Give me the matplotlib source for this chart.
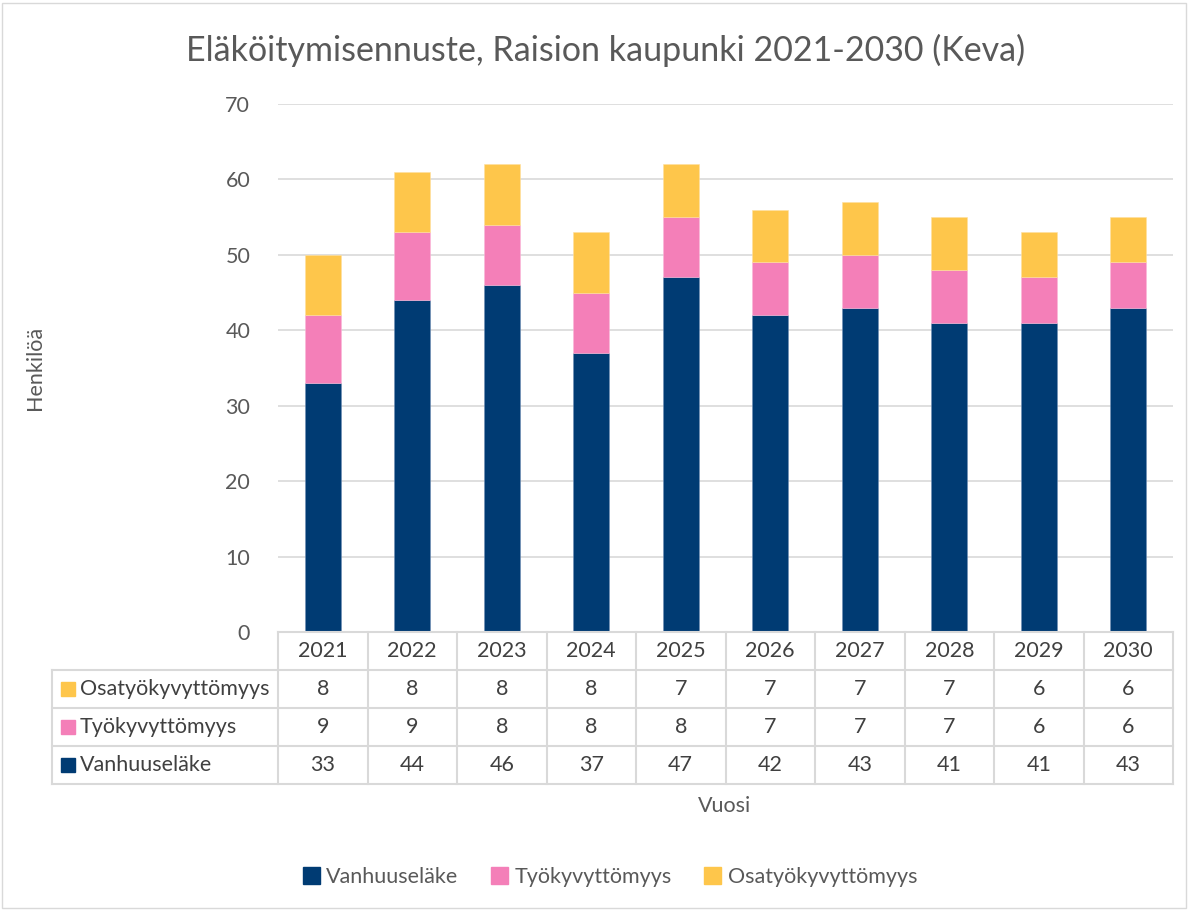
import matplotlib
matplotlib.use("Agg")
import matplotlib.pyplot as plt
from matplotlib.patches import Rectangle
from matplotlib.lines import Line2D

plt.rcParams['font.family'] = ['Lato', 'DejaVu Sans']

years = ['2021', '2022', '2023', '2024', '2025', '2026', '2027', '2028', '2029', '2030']
vanhuuselake = [33, 44, 46, 37, 47, 42, 43, 41, 41, 43]
tyokyvyttomyys = [9, 9, 8, 8, 8, 7, 7, 7, 6, 6]
osatyokyvyttomyys = [8, 8, 8, 8, 7, 7, 7, 7, 6, 6]
series_names = ['Vanhuuseläke', 'Työkyvyttömyys', 'Osatyökyvyttömyys']
colors = ['#003B73', '#F47FB8', '#FEC64B']
title = 'Eläköitymisennuste, Raision kaupunki 2021-2030 (Keva)'

W, H = 1195, 911
fig = plt.figure(figsize=(W / 100, H / 100), dpi=100)
fig.patch.set_facecolor('white')

L, R, B, T = 278, 1173, 632, 104
ax = fig.add_axes([L / W, 1 - B / H, (R - L) / W, (B - T) / H])

FS = 15.5
x = list(range(len(years)))
bottom2 = [a + b for a, b in zip(vanhuuselake, tyokyvyttomyys)]
bw = 0.40
ax.bar(x, vanhuuselake, width=bw, color=colors[0], edgecolor='#6F8FB5', linewidth=0.4, zorder=3)
ax.bar(x, tyokyvyttomyys, width=bw, bottom=vanhuuselake, color=colors[1], edgecolor='#F9B8D8', linewidth=0.4, zorder=3)
ax.bar(x, osatyokyvyttomyys, width=bw, bottom=bottom2, color=colors[2], edgecolor='#FFE0A0', linewidth=0.4, zorder=3)

ax.set_xlim(-0.5, len(years) - 0.5)
ax.set_ylim(0, 70)
ax.set_yticks(range(0, 71, 10))
ax.yaxis.grid(True, color='#D9D9D9', linewidth=1.2, zorder=0)
ax.set_xticks([])
for s in ax.spines.values():
    s.set_visible(False)
ax.tick_params(axis='y', length=0, labelsize=FS, labelcolor='#595959', pad=20)

gc = '#D9D9D9'
tc = '#404040'
row_h = 38
rows_y = [B, B + row_h, B + 2 * row_h, B + 3 * row_h, B + 4 * row_h]
TL = 52
cw = (R - L) / len(years)

def fx(px):
    return px / W

def fy(py):
    return 1 - py / H

lines = []
lines.append(((L, R), (B, B)))
for yy in rows_y[1:]:
    lines.append(((TL, R), (yy, yy)))
for i in range(len(years) + 1):
    xx = L + i * cw
    lines.append(((xx, xx), (B, rows_y[-1])))
lines.append(((TL, TL), (rows_y[1], rows_y[-1])))
for (xs, ys) in lines:
    fig.add_artist(Line2D([fx(xs[0]), fx(xs[1])], [fy(ys[0]), fy(ys[1])],
                          color=gc, linewidth=1.5))

for i, yr in enumerate(years):
    cx = L + (i + 0.5) * cw
    fig.text(fx(cx), fy((rows_y[0] + rows_y[1]) / 2), yr, ha='center', va='center',
             fontsize=FS, color=tc)

table_rows = [(series_names[2], osatyokyvyttomyys, colors[2]),
              (series_names[1], tyokyvyttomyys, colors[1]),
              (series_names[0], vanhuuselake, colors[0])]
for r, (name, vals, col) in enumerate(table_rows):
    cy = (rows_y[r + 1] + rows_y[r + 2]) / 2
    fig.add_artist(Rectangle((fx(61), fy(cy + 7)), 14 / W, 14 / H, color=col))
    fig.text(fx(80), fy(cy), name, ha='left', va='center', fontsize=FS, color=tc)
    for i, v in enumerate(vals):
        cx = L + (i + 0.5) * cw
        fig.text(fx(cx), fy(cy), str(v), ha='center', va='center', fontsize=FS, color=tc)

fig.text(fx(606), fy(50), title, ha='center', va='center', fontsize=24.5, color='#595959')
fig.text(fx(35), fy(368), 'Henkilöä', ha='center', va='center', rotation=90,
         fontsize=FS, color='#595959')
fig.text(fx(725), fy(806), 'Vuosi', ha='center', va='center', fontsize=FS, color='#595959')

handles = [Rectangle((0, 0), 1, 1, color=c) for c in colors]
fig.legend(handles, series_names, loc='center', bbox_to_anchor=(fx(610), fy(877)),
           ncol=3, frameon=False, fontsize=FS, handlelength=0.8, handleheight=0.8,
           handletextpad=0.3, columnspacing=1.5, labelcolor='#595959')

fig.add_artist(Rectangle((fx(2), fy(908)), 1184 / W, 905 / H, fill=False,
                         edgecolor='#D9D9D9', linewidth=1))

fig.savefig('out.png', dpi=100)
